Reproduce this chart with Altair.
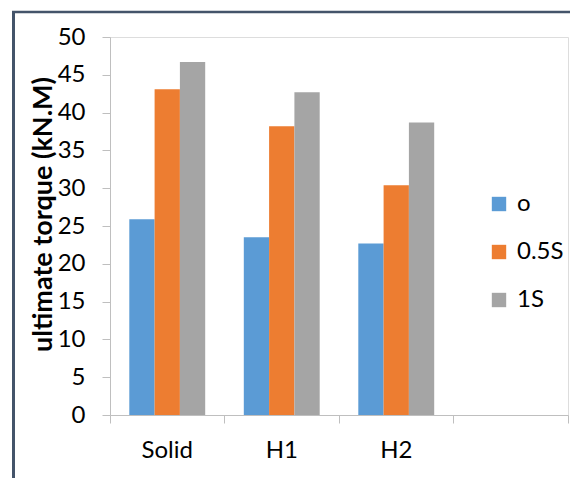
import altair as alt
import pandas as pd

# ---- data ----
categories = ["Solid", "H1", "H2"]
x_domain = ["Solid", "H1", "H2", " "]
series = ["o", "0.5S", "1S"]
values_o = [25.9, 23.5, 22.7]
values_05s = [43.1, 38.2, 30.4]
values_1s = [46.7, 42.7, 38.7]
colors = ["#5B9BD5", "#ED7D31", "#A5A5A5"]
y_ticks = list(range(0, 51, 5))
y_title = "ultimate torque (kN.M)"

rows = []
for s, vals in zip(series, [values_o, values_05s, values_1s]):
    for c, v in zip(categories, vals):
        rows.append({"cat": c, "series": s, "value": v})
df = pd.DataFrame(rows)
frame_df = pd.DataFrame({"k": [0]})

FONT = "Lato"
W, H = 458, 378
AXIS_COLOR = "#BFBFBF"
FRAME_COLOR = "#44546A"

x_scale = alt.Scale(domain=x_domain, paddingInner=0, paddingOuter=0)
x_axis = alt.Axis(
    title=None, labelAngle=0, ticks=True, tickSize=8, tickColor=AXIS_COLOR,
    bandPosition=1, tickExtra=True, labelPadding=15,
    labelFont=FONT, labelFontSize=24, labelColor="#000000",
    domainColor=AXIS_COLOR, domainWidth=1,
)

bars = alt.Chart(df).mark_bar().encode(
    x=alt.X("cat:N", scale=x_scale, axis=x_axis),
    xOffset=alt.XOffset(
        "series:N",
        scale=alt.Scale(domain=series, paddingInner=0, paddingOuter=0.763),
    ),
    y=alt.Y(
        "value:Q",
        scale=alt.Scale(domain=[0, 50], nice=False),
        axis=alt.Axis(
            values=y_ticks, grid=False, title=y_title,
            tickSize=8, tickColor=AXIS_COLOR, domainColor=AXIS_COLOR,
            labelFont=FONT, labelFontSize=24, labelColor="#000000", labelPadding=17,
            titleFont=FONT, titleFontSize=27, titleFontWeight="bold", titleColor="#000000",
            titleAngle=270, titleAlign="center", titleBaseline="middle",
            titleX=-67, titleY=177,
        ),
    ),
    color=alt.Color(
        "series:N",
        scale=alt.Scale(domain=series, range=colors),
        legend=alt.Legend(
            title=None, orient="none", legendX=377, legendY=155,
            symbolType="square", symbolSize=207, symbolStrokeWidth=0,
            labelFont=FONT, labelFontSize=24, labelColor="#000000",
            labelOffset=6, rowPadding=24,
        ),
    ),
)

frame_left = alt.Chart(frame_df).mark_rule(color=FRAME_COLOR, strokeWidth=3).encode(
    x=alt.value(-96.5), y=alt.value(-25), y2=alt.value(H + 70)
)
frame_top = alt.Chart(frame_df).mark_rule(color=FRAME_COLOR, strokeWidth=2.5).encode(
    x=alt.value(-98), x2=alt.value(462), y=alt.value(-25)
)
frame_right = alt.Chart(frame_df).mark_rule(color=FRAME_COLOR, strokeWidth=1.5).encode(
    x=alt.value(461), y=alt.value(-25), y2=alt.value(H + 70)
)

chart = alt.layer(
    bars, frame_left, frame_top, frame_right
).properties(
    width=W, height=H,
    autosize=alt.AutoSizeParams(type="none"),
    padding={"left": 102, "top": 29, "right": 2, "bottom": 63},
).configure_view(stroke=None).configure(background="white")

chart.save("out.html", embed_options={"renderer": "svg", "actions": False})
